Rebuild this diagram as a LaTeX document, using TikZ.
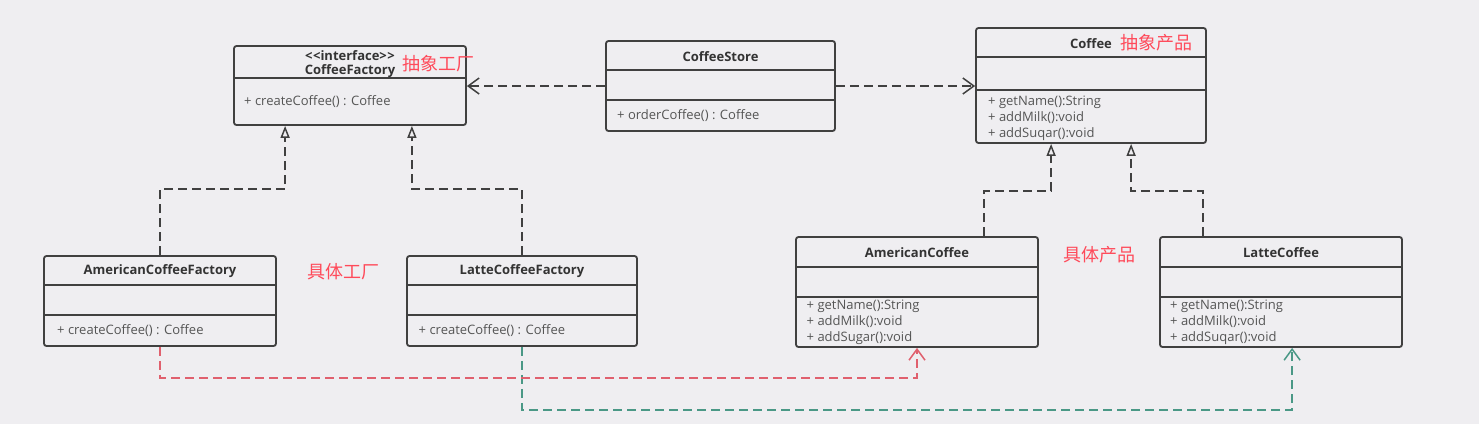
\documentclass[tikz,border=0pt]{standalone}
\usepackage{fontspec}
\setmainfont{Open Sans}
\newfontfamily\cjk{Noto Sans CJK SC}
\usetikzlibrary{arrows.meta}

\definecolor{bg}{HTML}{EFEEF1}
\definecolor{boxline}{HTML}{404040}
\definecolor{txt}{HTML}{333333}
\definecolor{methtxt}{HTML}{555555}
\definecolor{cnred}{HTML}{FF4A5A}
\definecolor{linkred}{HTML}{E0606E}
\definecolor{linkteal}{HTML}{4A9886}

\tikzset{
  umlbox/.style={draw=boxline,line width=1.8pt,rounded corners=2.5pt,inner sep=0pt},
  divline/.style={draw=boxline,line width=1.8pt},
  title/.style={font=\bfseries\fontsize{13}{15}\selectfont,text=txt,inner sep=0pt},
  meth/.style={font=\fontsize{13}{16}\selectfont,text=methtxt,inner sep=0pt,anchor=west,align=left},
  note/.style={font=\cjk\fontsize{18}{20}\selectfont,text=cnred,inner sep=0pt,anchor=west},
  dep/.style={draw=boxline,line width=1.5pt,dash pattern=on 9pt off 5pt,-{Straight Barb[length=11pt,width=16pt]}},
  impl/.style={draw=boxline,line width=1.5pt,dash pattern=on 9pt off 5pt,-{Triangle[open,length=12pt,width=9pt]}},
}

\begin{document}
\begin{tikzpicture}[x=1pt,y=-1pt]
  \fill[bg] (0,0) rectangle (1479,424);

  \node[umlbox,minimum width=232pt,minimum height=79pt] (cf) at (350,85.5) {};
  \node[umlbox,minimum width=229pt,minimum height=90pt] (cs) at (720.5,86) {};
  \node[umlbox,minimum width=230pt,minimum height=115pt] (co) at (1091,85.5) {};
  \node[umlbox,minimum width=232pt,minimum height=90pt] (acf) at (160,301) {};
  \node[umlbox,minimum width=230pt,minimum height=90pt] (lcf) at (522,301) {};
  \node[umlbox,minimum width=242pt,minimum height=110pt] (ac) at (917,292) {};
  \node[umlbox,minimum width=242pt,minimum height=110pt] (lc) at (1281,292) {};

  \draw[divline] ([yshift=-33pt]cf.north west) -- ([yshift=-33pt]cf.north east);
  \draw[divline] ([yshift=-30pt]cs.north west) -- ([yshift=-30pt]cs.north east);
  \draw[divline] ([yshift=-60pt]cs.north west) -- ([yshift=-60pt]cs.north east);
  \draw[divline] ([yshift=-30pt]co.north west) -- ([yshift=-30pt]co.north east);
  \draw[divline] ([yshift=-63pt]co.north west) -- ([yshift=-63pt]co.north east);
  \draw[divline] ([yshift=-30pt]acf.north west) -- ([yshift=-30pt]acf.north east);
  \draw[divline] ([yshift=-60pt]acf.north west) -- ([yshift=-60pt]acf.north east);
  \draw[divline] ([yshift=-30pt]lcf.north west) -- ([yshift=-30pt]lcf.north east);
  \draw[divline] ([yshift=-60pt]lcf.north west) -- ([yshift=-60pt]lcf.north east);
  \draw[divline] ([yshift=-31pt]ac.north west) -- ([yshift=-31pt]ac.north east);
  \draw[divline] ([yshift=-61pt]ac.north west) -- ([yshift=-61pt]ac.north east);
  \draw[divline] ([yshift=-31pt]lc.north west) -- ([yshift=-31pt]lc.north east);
  \draw[divline] ([yshift=-61pt]lc.north west) -- ([yshift=-61pt]lc.north east);

  \node[title] (cfstereo) at (350,56) {<\kern0.5pt<interface>\kern0.5pt>};
  \node[title] (cftitle) at (350,71) {CoffeeFactory};
  \node[title] (cstitle) at (720.5,57) {CoffeeStore};
  \node[title] (cotitle) at (1091,44) {Coffee};
  \node[title] (acftitle) at (160,271) {AmericanCoffeeFactory};
  \node[title] (lcftitle) at (522,271) {LatteCoffeeFactory};
  \node[title] (actitle) at (917,253) {AmericanCoffee};
  \node[title] (lctitle) at (1281,253) {LatteCoffee};

  \node[meth] (cfmeth) at (244,102) {+ createCoffee() : Coffee};
  \node[meth] (csmeth) at (617,116) {+ orderCoffee() : Coffee};
  \node[meth] (cometh) at (988,118) {+ getName():String\\+ addMilk():void\\+ addSuqar():void};
  \node[meth] (acfmeth) at (57,331) {+ createCoffee() : Coffee};
  \node[meth] (lcfmeth) at (418.5,331) {+ createCoffee() : Coffee};
  \node[meth] (acmeth) at (806.5,322) {+ getName():String\\+ addMilk():void\\+ addSugar():void};
  \node[meth] (lcmeth) at (1170,322) {+ getName():String\\+ addMilk():void\\+ addSuqar():void};

  \node[note] (absfactory) at (402,64) {抽象工厂};
  \node[note] (absproduct) at (1120,43) {抽象产品};
  \node[note] (confactory) at (307,272) {具体工厂};
  \node[note] (conproduct) at (1063,255) {具体产品};

  \draw[dep] (cs.west) -- (cs.west -| cf.east);
  \draw[dep] (cs.east) -- (cs.east -| co.west);
  \draw[impl] (acf.north) -- ++(0,-66) -| ([xshift=52pt]cf.south west);
  \draw[impl] (lcf.north) -- ++(0,-66) -| ([xshift=-55pt]cf.south east);
  \draw[impl] ([xshift=189pt]ac.north west) -- ++(0,-45) -| ([xshift=76pt]co.south west);
  \draw[impl] ([xshift=44pt]lc.north west) -- ++(0,-45) -| ([xshift=156pt]co.south west);
  \draw[dep,draw=linkteal] (lcf.south) -- ++(0,63) -| ([xshift=133pt]lc.south west);
  \draw[dep,draw=linkred] (acf.south) -- ++(0,31) -| (ac.south);
\end{tikzpicture}
\end{document}
